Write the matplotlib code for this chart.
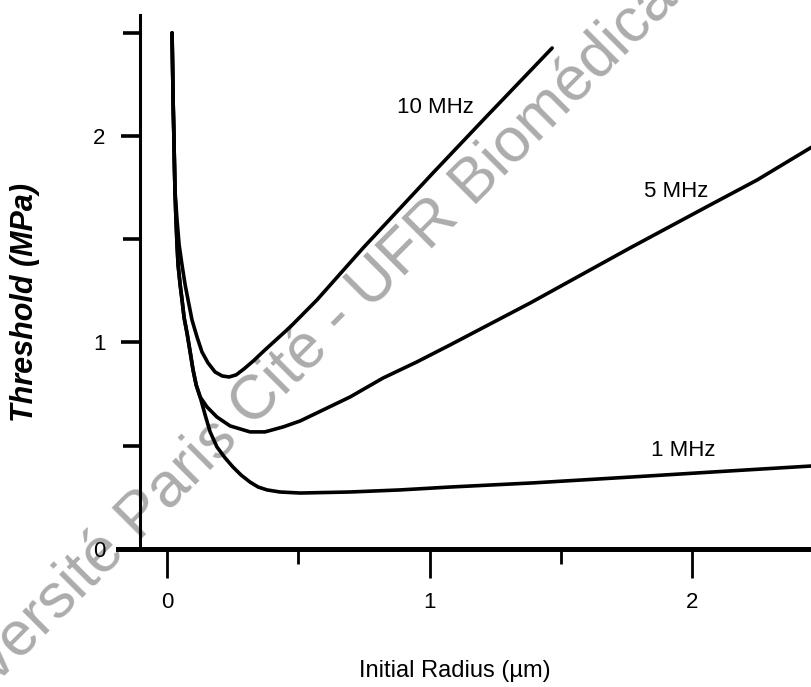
import matplotlib
matplotlib.use('Agg')
import matplotlib.pyplot as plt

plt.rcParams['font.family'] = ['Liberation Sans', 'DejaVu Sans']

# Threshold curves (radius in um, threshold in MPa)
# 1 MHz and 5 MHz share the same steep branch at small radius
r_steep = [0.019, 0.023, 0.027, 0.030, 0.034, 0.038, 0.042, 0.050, 0.057, 0.065,
           0.076, 0.088, 0.099, 0.111, 0.126]
p_steep = [2.499, 2.174, 1.932, 1.738, 1.593, 1.472, 1.375, 1.278, 1.206, 1.119,
           1.046, 0.954, 0.867, 0.794, 0.736]

r_1mhz = r_steep + [0.145, 0.164, 0.190, 0.221, 0.251, 0.282, 0.316, 0.347, 0.381,
                    0.430, 0.507, 0.697, 0.888, 1.078, 1.394, 1.775, 2.145, 2.457]
p_1mhz = p_steep + [0.649, 0.567, 0.494, 0.441, 0.397, 0.358, 0.324, 0.300, 0.286,
                    0.276, 0.271, 0.276, 0.286, 0.300, 0.320, 0.349, 0.378, 0.402]

r_5mhz = r_steep + [0.152, 0.190, 0.240, 0.316, 0.373, 0.442, 0.507, 0.571, 0.697,
                    0.823, 0.952, 1.078, 1.383, 1.764, 2.069, 2.248, 2.457]
p_5mhz = p_steep + [0.688, 0.639, 0.596, 0.567, 0.567, 0.591, 0.620, 0.659, 0.736,
                    0.828, 0.906, 0.988, 1.191, 1.458, 1.666, 1.787, 1.947]

r_10mhz = [0.019, 0.023, 0.027, 0.030, 0.038, 0.046, 0.057, 0.069, 0.080, 0.095,
           0.114, 0.133, 0.156, 0.183, 0.210, 0.236, 0.263, 0.293, 0.328, 0.373,
           0.469, 0.571, 0.747, 1.013, 1.204, 1.467]
p_10mhz = [2.499, 2.174, 1.932, 1.738, 1.593, 1.472, 1.375, 1.278, 1.206, 1.109,
           1.027, 0.954, 0.901, 0.857, 0.838, 0.833, 0.843, 0.872, 0.910, 0.964,
           1.075, 1.206, 1.458, 1.821, 2.077, 2.426]

curve_labels = ['10 MHz', '5 MHz', '1 MHz']
label_x = [1.021, 1.939, 1.966]
label_y = [2.140, 1.729, 0.479]

fig = plt.figure(figsize=(8.12, 6.87), dpi=100)
ax = fig.add_axes([0.1453, 0.2009, 0.8547, 0.7773])

for r, p in [(r_10mhz, p_10mhz), (r_5mhz, p_5mhz), (r_1mhz, p_1mhz)]:
    ax.plot(r, p, color='black', lw=2.6, solid_joinstyle='round',
            solid_capstyle='round', zorder=3)

for txt, x, y in zip(curve_labels, label_x, label_y):
    ax.text(x, y, txt, fontsize=16, ha='center', va='center', zorder=4)

ax.set_xlim(-0.187, 2.457)
ax.set_ylim(0, 2.586)

ax.spines['top'].set_visible(False)
ax.spines['right'].set_visible(False)
ax.spines['left'].set_position(('data', -0.103))
ax.spines['left'].set_linewidth(2.2)
ax.spines['bottom'].set_linewidth(3.6)

ax.set_xticks([0, 1, 2])
ax.set_xticks([0.5, 1.5], minor=True)
ax.set_yticks([0, 1, 2])
ax.set_yticks([0.5, 1.5, 2.5], minor=True)
ax.set_xticklabels(['0', '1', '2'])
ax.set_yticklabels(['0', '1', '2'])

ax.tick_params(axis='x', which='major', direction='out', length=21, width=2, pad=10,
               labelsize=16)
ax.tick_params(axis='x', which='minor', direction='out', length=11, width=2)
ax.tick_params(axis='y', which='major', direction='out', length=14, width=2.6, pad=11,
               labelsize=16)
ax.tick_params(axis='y', which='minor', direction='out', length=12, width=2.6)

ax.set_ylabel('Threshold (MPa)', fontsize=22, fontweight='bold', fontstyle='italic',
              va='center')
ax.yaxis.set_label_coords(-0.134, 0.461)
ax.set_xlabel('Initial Radius (\u00b5m)', fontsize=17, va='center')
ax.xaxis.set_label_coords(0.486, -0.228)

# watermark of the scanned page
ax.text(0.383, 0.495, 'Universit\u00e9 Paris Cit\u00e9 - UFR Biom\u00e9dicale',
        transform=fig.transFigure, fontsize=45, color='#acacac', rotation=45,
        rotation_mode='anchor', ha='center', va='center', zorder=1, clip_on=False)

fig.savefig('out.png', dpi=100)
